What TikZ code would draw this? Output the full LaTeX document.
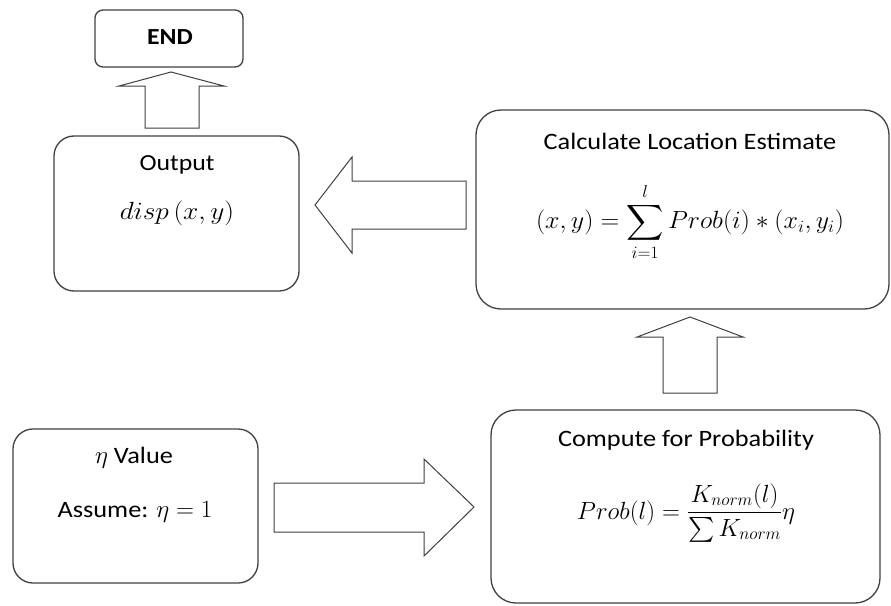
\documentclass[tikz,border=0pt]{standalone}
\usepackage{amsmath}
\usepackage{exscale}
\usepackage{graphicx}
\usepackage{fontspec}
\setmainfont{Carlito}[FakeStretch=1.12]
\definecolor{edge}{HTML}{404040}
\tikzset{
  box/.style={draw=edge, line width=1.3pt, rectangle, inner sep=0pt},
  blockarrow/.style={draw=edge, line width=1pt, fill=white, line join=miter},
  lbl/.style={inner sep=0pt, font=\fontsize{23.5}{28}\selectfont},
  mth/.style={inner sep=0pt, font=\fontsize{23.5}{28}\selectfont}
}
\begin{document}
\begin{tikzpicture}[x=1pt,y=-1pt]
\useasboundingbox (0,0) rectangle (891,605);
% boxes
\node[box, rounded corners=8pt, minimum width=148pt, minimum height=57pt] (endb) at (169,38.5) {};
\node[box, rounded corners=20pt, minimum width=245pt, minimum height=155pt] (outb) at (176.5,213.5) {};
\node[box, rounded corners=25pt, minimum width=413pt, minimum height=199pt] (calcb) at (682.5,209.5) {};
\node[box, rounded corners=20pt, minimum width=245pt, minimum height=154pt] (etab) at (135.5,506) {};
\node[box, rounded corners=25pt, minimum width=389pt, minimum height=193pt] (compb) at (685.5,506.5) {};
% texts
\node[lbl, font=\fontsize{23}{27}\selectfont\bfseries] (endt) at (170,37) {END};
\node[lbl, font=\fontsize{23}{27}\selectfont] (outt) at (177,165) {Output};
\node[mth] (outm) at (177,213) {\scalebox{1.1}[1]{$disp\,(x,y)$}};
\node[lbl] (calct) at (690,141) {Calculate Location Estimate};
\node[mth] (calcm) at (690,222) {\scalebox{1.04}[1]{$\displaystyle (x,y) = \sum_{i=1}^{l} Prob(i) * (x_i, y_i)$}};
\node[lbl] (etat) at (134,458) {$\eta$ Value};
\node[lbl] (etam) at (135,512) {Assume: $\eta = 1$};
\node[lbl] (compt) at (686,440) {Compute for Probability};
\node[mth] (compm) at (686,513) {$\displaystyle Prob(l) = \frac{K_{norm}(l)}{\sum K_{norm}}\eta$};
% block arrows
\draw[blockarrow] (145,128) -- (145,86) -- (119,86) -- (171,72) -- (224,86) -- (199,86) -- (199,128) -- cycle;
\draw[blockarrow] (466,181) -- (352,181) -- (352,157) -- (315,205) -- (352,253) -- (352,229) -- (466,229) -- cycle;
\draw[blockarrow] (663,393) -- (663,337) -- (637,337) -- (690,317) -- (743,337) -- (717,337) -- (717,393) -- cycle;
\draw[blockarrow] (274,483) -- (424,483) -- (424,459) -- (474,507) -- (424,556) -- (424,532) -- (274,532) -- cycle;
\end{tikzpicture}
\end{document}
